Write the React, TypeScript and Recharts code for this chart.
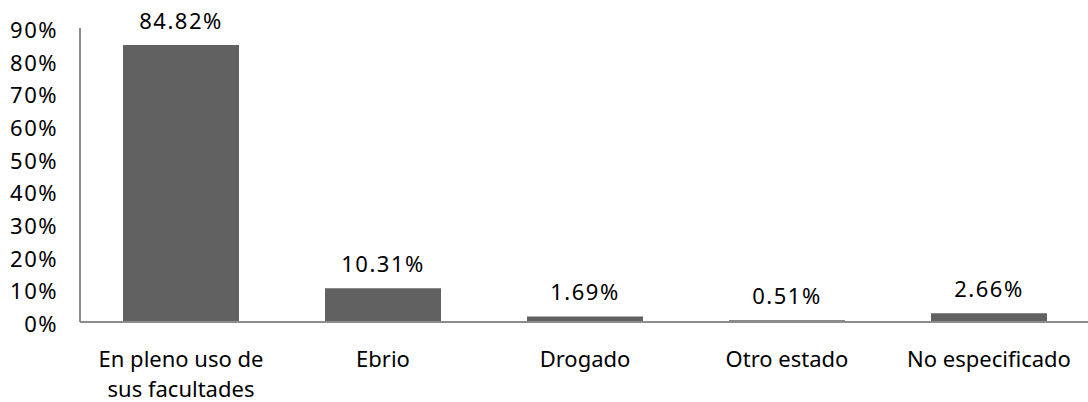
import React from "react";
import { BarChart, Bar, XAxis, YAxis, LabelList } from "recharts";

// Estado del conductor: porcentaje de casos por categoría
const categorias = [
  ["En pleno uso de", "sus facultades"],
  ["Ebrio"],
  ["Drogado"],
  ["Otro estado"],
  ["No especificado"],
];
const porcentajes = [84.82, 10.31, 1.69, 0.51, 2.66];
const ticksY = [0, 10, 20, 30, 40, 50, 60, 70, 80, 90];

const datos = categorias.map((lineas, i) => ({
  nombre: lineas.join(" "),
  lineas,
  valor: porcentajes[i],
}));

const FUENTE = "'Noto Sans', 'Open Sans', sans-serif";
const TAM = 22;
const ESPACIADO_NUM = 1.5;

const TickCategoria = (props: any) => {
  const { x, y, payload, index } = props;
  const lineas = categorias[index] ?? [payload.value];
  return (
    <g transform={`translate(${x},${y})`}>
      {lineas.map((l, i) => (
        <text
          key={i}
          x={0}
          y={37 + i * 30}
          textAnchor="middle"
          fontFamily={FUENTE}
          fontSize={TAM}
          fill="#000"
        >
          {l}
        </text>
      ))}
    </g>
  );
};

const EtiquetaValor = (props: any) => {
  const { x, y, width, value } = props;
  return (
    <text
      x={x + width / 2}
      y={y - 16}
      textAnchor="middle"
      fontFamily={FUENTE}
      fontSize={TAM}
      letterSpacing={ESPACIADO_NUM}
      fill="#000"
    >
      {`${value.toFixed(2)}%`}
    </text>
  );
};

const TickPorcentaje = (props: any) => {
  const { x, y, payload } = props;
  return (
    <text
      x={x}
      y={y}
      dy={10}
      textAnchor="end"
      fontFamily={FUENTE}
      fontSize={TAM}
      letterSpacing={ESPACIADO_NUM}
      fill="#000"
    >
      {`${payload.value}%`}
    </text>
  );
};

export default function App() {
  return (
    <div
      style={{
        position: "absolute",
        left: 0,
        top: 0,
        width: 1088,
        height: 402,
        overflow: "hidden",
        background: "#fff",
      }}
    >
      <BarChart
        width={1090}
        height={402}
        data={datos}
        margin={{ top: 28, right: 0, left: 0, bottom: 0 }}
        barSize={116}
      >
        <XAxis
          dataKey="nombre"
          axisLine={{ stroke: "#8c8c8c", strokeWidth: 2 }}
          tickLine={false}
          tick={<TickCategoria />}
          interval={0}
          height={80}
        />
        <YAxis
          width={80}
          domain={[0, 90]}
          ticks={ticksY}
          interval={0}
          axisLine={{ stroke: "#8c8c8c", strokeWidth: 2 }}
          tickLine={false}
          tickSize={0}
          tickMargin={22}
          tick={<TickPorcentaje />}
        />
        <Bar dataKey="valor" fill="#616161" isAnimationActive={false}>
          <LabelList dataKey="valor" content={<EtiquetaValor />} />
        </Bar>
      </BarChart>
    </div>
  );
}
